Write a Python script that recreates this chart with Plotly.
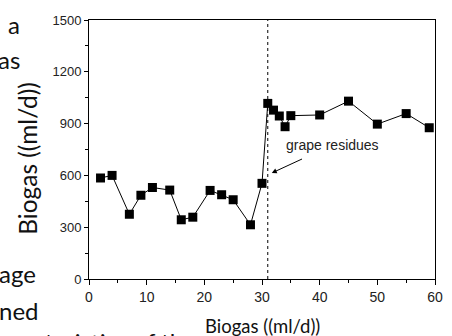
import plotly.graph_objects as go

# time (days) and daily biogas production (ml/d)
days = [2, 4, 7, 9, 11, 14, 16, 18, 21, 23, 25, 28, 30, 31, 32, 33, 34, 35, 40, 45, 50, 55, 59]
biogas = [585, 600, 375, 485, 530, 515, 343, 358, 513, 488, 459, 314, 554,
          1017, 978, 944, 882, 946, 950, 1030, 897, 958, 876]

# day the grape residues were added
grape_day = 31

x_ticks = [0, 10, 20, 30, 40, 50, 60]
y_ticks = [0, 300, 600, 900, 1200, 1500]

# fragments of the surrounding document text that show around the figure
page_text = [
    ("a", -0.195, 0.981, "right"),
    ("as", -0.195, 0.846, "right"),
    ("age", -0.147, 0.023, "right"),
    ("ned", -0.138, -0.120, "right"),
    ("characteristics of the", 0.314, -0.243, "right"),
]

fig = go.Figure()

fig.add_trace(
    go.Scatter(
        x=days,
        y=biogas,
        mode="lines+markers",
        line=dict(color="black", width=1),
        marker=dict(symbol="square", size=9, color="black"),
        showlegend=False,
    )
)

# dotted vertical line where the grape residues go in
fig.add_shape(
    type="line",
    x0=grape_day, x1=grape_day, y0=0, y1=1500,
    xref="x", yref="y",
    line=dict(color="black", width=1, dash="dot"),
)

axis_font = dict(family="Liberation Sans, Arial", size=13, color="#222")

fig.update_xaxes(
    range=[0, 60],
    tickmode="array",
    tickvals=x_ticks,
    ticks="outside",
    ticklen=5,
    tickcolor="black",
    minor=dict(dtick=5, ticks="outside", ticklen=3, tickcolor="black"),
    showline=True,
    linecolor="black",
    linewidth=1,
    mirror=True,
    showgrid=False,
    zeroline=False,
    tickfont=dict(axis_font, size=14),
)
fig.update_yaxes(
    range=[0, 1500],
    tickmode="array",
    tickvals=y_ticks,
    ticks="outside",
    ticklen=4,
    tickcolor="black",
    minor=dict(dtick=150, ticks="outside", ticklen=3, tickcolor="black"),
    showline=True,
    linecolor="black",
    linewidth=1,
    mirror=True,
    showgrid=False,
    zeroline=False,
    tickfont=axis_font,
)

annotations = []
# arrow pointing at the grape residue line
annotations.append(dict(
    x=31.7, y=614, xref="x", yref="y",
    ax=37.2, ay=699, axref="x", ayref="y",
    text="", showarrow=True,
    arrowhead=2, arrowsize=1, arrowwidth=1, arrowcolor="black",
    standoff=0, startstandoff=0,
))
annotations.append(dict(
    x=42.2, y=776, xref="x", yref="y",
    text="grape residues", showarrow=False,
    font=dict(family="Liberation Sans, Arial", size=14, color="#222"),
))
# axis titles
annotations.append(dict(
    x=-0.18, y=0.467, xref="paper", yref="paper",
    text="Biogas ((ml/d))", textangle=-90, showarrow=False,
    xanchor="center", yanchor="middle",
    font=dict(family="Lato", size=24.5, color="#111"),
))
annotations.append(dict(
    x=0.5, y=-0.182, xref="paper", yref="paper",
    text="Biogas ((ml/d))", showarrow=False,
    xanchor="center", yanchor="middle",
    font=dict(family="Lato", size=18.5, color="#111"),
))
for txt, px_, py_, anchor in page_text:
    annotations.append(dict(
        x=px_, y=py_, xref="paper", yref="paper",
        text=txt, showarrow=False,
        xanchor=anchor, yanchor="middle",
        font=dict(family="Lato", size=24, color="#111"),
    ))

fig.update_layout(
    width=452,
    height=336,
    margin=dict(l=89, r=9, t=20, b=57),
    paper_bgcolor="white",
    plot_bgcolor="white",
    annotations=annotations,
)

# drop the default page margin so the figure sits at the window's corner
fig.write_html(
    "out.html",
    config={"displayModeBar": False},
    post_script="document.body.style.margin='0';",
)
